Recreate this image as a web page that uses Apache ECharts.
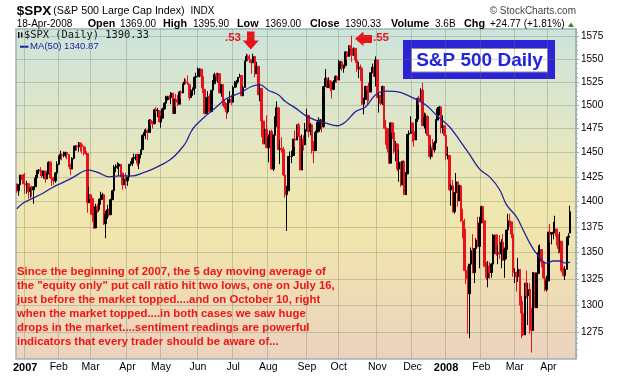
<!DOCTYPE html>
<html>
<head>
<meta charset="utf-8">
<script src="https://cdn.jsdelivr.net/npm/echarts@6/dist/echarts.min.js"></script>
<style>
  html, body { margin: 0; padding: 0; background: #fff; }
  #chart { width: 620px; height: 376px; }
</style>
</head>
<body>
<div id="chart"></div>
<script>
// trading days from 22-Dec-2006 to 18-Apr-2008 (weekends and these holidays skipped)
const holidays = ['2006-12-25', '2007-01-01', '2007-01-02', '2007-01-15', '2007-02-19', '2007-04-06',
  '2007-05-28', '2007-07-04', '2007-09-03', '2007-11-22', '2007-12-25', '2008-01-01', '2008-01-21',
  '2008-02-18', '2008-03-21']
const firstDay = '2006-12-22'
const lastDay = '2008-04-18'
const monthNames = ['Jan', 'Feb', 'Mar', 'Apr', 'May', 'Jun', 'Jul', 'Aug', 'Sep', 'Oct', 'Nov', 'Dec']

// $SPX daily bars (Dec-06 .. Apr-08)
const opens = [
  1418, 1411, 1417, 1427, 1425,
  1418, 1417, 1418, 1410, 1413, 1412, 1415, 1424, 1431, 1432, 1431, 1426, 1431, 1423, 1428, 1440, 1424, 1422, 1421, 1429,
  1438, 1446, 1448, 1447, 1448, 1450, 1448, 1438, 1433, 1444, 1455, 1457, 1456, 1460, 1458, 1456, 1451, 1449, 1399,
  1407, 1403, 1387, 1374, 1395, 1392, 1402, 1403, 1407, 1378, 1387, 1392, 1387, 1402, 1411, 1435, 1435, 1436, 1438, 1429, 1417, 1423,
  1421, 1425, 1438, 1439, 1444, 1445, 1448, 1439, 1448, 1453, 1468, 1471, 1473, 1471, 1484, 1481, 1480, 1495, 1494, 1494,
  1482, 1486, 1496, 1502, 1506, 1509, 1508, 1513, 1491, 1506, 1503, 1501, 1514, 1513, 1523, 1525, 1524, 1522, 1508, 1516, 1518, 1530,
  1531, 1536, 1539, 1531, 1517, 1491, 1508, 1509, 1493, 1516, 1523, 1533, 1531, 1534, 1513, 1522, 1503, 1498, 1493, 1506, 1506,
  1503, 1519, 1525, 1525, 1530, 1532, 1510, 1519, 1548, 1553, 1550, 1549, 1546, 1553, 1534, 1542, 1511, 1518, 1483, 1459, 1474,
  1455, 1466, 1472, 1433, 1468, 1477, 1497, 1453, 1454, 1453, 1427, 1407, 1411, 1446, 1446, 1447, 1464, 1463, 1479, 1467, 1432, 1464, 1458,
  1474, 1489, 1472, 1479, 1454, 1452, 1471, 1472, 1484, 1484, 1477, 1520, 1529, 1519, 1526, 1518, 1517, 1525, 1531,
  1527, 1547, 1547, 1540, 1543, 1558, 1553, 1565, 1562, 1554, 1562, 1549, 1539, 1541, 1540, 1501, 1506, 1520, 1516, 1514, 1535, 1541, 1531,
  1549, 1508, 1510, 1502, 1520, 1476, 1475, 1454, 1439, 1481, 1471, 1451, 1459, 1433, 1440, 1417, 1441, 1407, 1428, 1469, 1470,
  1481, 1472, 1463, 1485, 1507, 1505, 1516, 1478, 1487, 1488, 1468, 1446, 1455, 1453, 1460, 1484, 1496, 1498, 1476, 1478,
  1468, 1447, 1447, 1412, 1416, 1390, 1409, 1420, 1401, 1416, 1381, 1373, 1333, 1325, 1311, 1339, 1352, 1331, 1354, 1362, 1356,
  1379, 1395, 1381, 1337, 1326, 1337, 1331, 1339, 1349, 1367, 1349, 1350, 1349, 1360, 1343, 1353, 1372, 1381, 1380, 1368,
  1331, 1331, 1327, 1334, 1304, 1293, 1273, 1321, 1309, 1315, 1288, 1277, 1331, 1298, 1330, 1350, 1353, 1341, 1326, 1315,
  1323, 1370, 1368, 1369, 1370, 1373, 1366, 1354, 1361, 1333, 1328, 1334, 1365, 1369
]
const highs = [
  1418, 1417, 1427, 1427, 1428,
  1429, 1421, 1418, 1415, 1416, 1415, 1427, 1432, 1433, 1435, 1432, 1431, 1431, 1429, 1441, 1441, 1427, 1425, 1430, 1441,
  1447, 1452, 1449, 1451, 1451, 1450, 1448, 1438, 1445, 1457, 1457, 1457, 1461, 1460, 1459, 1457, 1456, 1449, 1415,
  1407, 1404, 1389, 1398, 1398, 1403, 1410, 1409, 1407, 1391, 1397, 1393, 1403, 1412, 1437, 1438, 1440, 1439, 1438, 1429, 1427, 1429,
  1425, 1438, 1441, 1445, 1449, 1448, 1449, 1448, 1453, 1469, 1474, 1475, 1474, 1485, 1485, 1483, 1496, 1498, 1497, 1494,
  1488, 1497, 1503, 1510, 1510, 1511, 1514, 1513, 1507, 1512, 1511, 1515, 1516, 1523, 1529, 1528, 1532, 1523, 1517, 1519, 1531, 1535,
  1541, 1540, 1539, 1531, 1517, 1508, 1515, 1512, 1516, 1527, 1535, 1535, 1535, 1534, 1522, 1522, 1506, 1502, 1507, 1515, 1511,
  1521, 1526, 1527, 1530, 1534, 1532, 1521, 1548, 1556, 1555, 1555, 1549, 1556, 1553, 1547, 1542, 1522, 1518, 1483, 1475, 1489,
  1469, 1473, 1474, 1469, 1488, 1504, 1497, 1463, 1466, 1456, 1427, 1416, 1446, 1451, 1452, 1464, 1473, 1479, 1481, 1467, 1469, 1468, 1481,
  1496, 1489, 1481, 1479, 1462, 1473, 1482, 1487, 1485, 1484, 1520, 1539, 1530, 1530, 1527, 1523, 1527, 1532, 1532,
  1549, 1548, 1547, 1544, 1559, 1558, 1565, 1565, 1576, 1563, 1562, 1552, 1547, 1544, 1540, 1508, 1521, 1521, 1524, 1535, 1545, 1541, 1553,
  1549, 1513, 1511, 1521, 1520, 1484, 1475, 1456, 1481, 1481, 1473, 1462, 1459, 1453, 1440, 1441, 1442, 1430, 1469, 1473, 1488,
  1481, 1472, 1485, 1508, 1510, 1518, 1524, 1492, 1491, 1489, 1468, 1458, 1464, 1462, 1485, 1498, 1499, 1498, 1489, 1478,
  1471, 1456, 1447, 1418, 1422, 1409, 1429, 1420, 1417, 1416, 1393, 1383, 1350, 1337, 1339, 1355, 1368, 1354, 1364, 1385, 1385,
  1396, 1395, 1381, 1341, 1342, 1341, 1340, 1368, 1367, 1368, 1357, 1367, 1363, 1368, 1355, 1372, 1388, 1388, 1380, 1368,
  1335, 1332, 1345, 1334, 1309, 1295, 1321, 1333, 1321, 1321, 1298, 1331, 1331, 1331, 1357, 1358, 1353, 1341, 1334, 1328,
  1370, 1378, 1370, 1380, 1386, 1373, 1368, 1370, 1361, 1336, 1337, 1365, 1369, 1396
]
const lows = [
  1409, 1406, 1417, 1422, 1418,
  1408, 1408, 1403, 1404, 1405, 1398, 1415, 1422, 1428, 1426, 1424, 1423, 1419, 1423, 1428, 1423, 1416, 1417, 1419, 1424,
  1437, 1443, 1442, 1445, 1445, 1443, 1435, 1427, 1433, 1443, 1452, 1452, 1451, 1451, 1449, 1447, 1448, 1389, 1399,
  1387, 1380, 1373, 1374, 1389, 1390, 1397, 1402, 1377, 1364, 1383, 1385, 1387, 1402, 1408, 1430, 1433, 1426, 1425, 1412, 1417, 1413,
  1416, 1424, 1436, 1436, 1439, 1442, 1436, 1433, 1444, 1453, 1467, 1464, 1463, 1471, 1478, 1475, 1480, 1492, 1487, 1482,
  1476, 1486, 1495, 1500, 1505, 1506, 1501, 1491, 1491, 1498, 1499, 1501, 1507, 1513, 1522, 1523, 1522, 1505, 1508, 1510, 1511, 1525,
  1530, 1530, 1518, 1513, 1490, 1491, 1503, 1492, 1493, 1516, 1523, 1526, 1524, 1513, 1509, 1499, 1496, 1485, 1491, 1502, 1500,
  1503, 1519, 1519, 1523, 1530, 1510, 1510, 1519, 1548, 1548, 1546, 1534, 1546, 1530, 1534, 1511, 1504, 1466, 1459, 1459, 1455,
  1440, 1456, 1433, 1431, 1463, 1477, 1453, 1438, 1450, 1426, 1404, 1371, 1411, 1431, 1439, 1448, 1456, 1463, 1467, 1432, 1432, 1452, 1458,
  1472, 1466, 1468, 1449, 1439, 1452, 1470, 1471, 1474, 1471, 1476, 1520, 1518, 1519, 1515, 1507, 1516, 1525, 1524,
  1527, 1539, 1537, 1535, 1542, 1549, 1553, 1554, 1547, 1554, 1546, 1536, 1529, 1526, 1500, 1490, 1506, 1500, 1504, 1514, 1535, 1531, 1520,
  1508, 1492, 1500, 1500, 1475, 1458, 1450, 1439, 1439, 1464, 1449, 1441, 1431, 1420, 1415, 1417, 1407, 1407, 1428, 1458, 1470,
  1461, 1456, 1463, 1482, 1500, 1505, 1478, 1475, 1470, 1467, 1445, 1443, 1445, 1450, 1460, 1484, 1489, 1470, 1470, 1467,
  1442, 1443, 1411, 1396, 1389, 1388, 1395, 1395, 1401, 1380, 1364, 1333, 1320, 1274, 1270, 1328, 1330, 1321, 1336, 1355, 1335,
  1379, 1379, 1336, 1324, 1317, 1325, 1326, 1339, 1349, 1347, 1339, 1344, 1335, 1342, 1326, 1344, 1364, 1375, 1364, 1327,
  1321, 1313, 1322, 1300, 1270, 1272, 1273, 1307, 1282, 1274, 1257, 1277, 1298, 1298, 1330, 1341, 1336, 1325, 1313, 1313,
  1323, 1360, 1358, 1363, 1370, 1357, 1349, 1350, 1331, 1327, 1324, 1334, 1357, 1369
]
const closes = [
  1411, 1417, 1427, 1425, 1418,
  1417, 1418, 1410, 1413, 1412, 1415, 1424, 1431, 1432, 1431, 1426, 1431, 1423, 1428, 1440, 1424, 1422, 1421, 1429, 1438,
  1446, 1448, 1447, 1448, 1450, 1448, 1438, 1433, 1444, 1455, 1457, 1456, 1460, 1458, 1456, 1451, 1449, 1399, 1407,
  1403, 1387, 1374, 1395, 1392, 1402, 1403, 1407, 1378, 1387, 1392, 1387, 1402, 1411, 1435, 1435, 1436, 1438, 1429, 1417, 1423, 1421,
  1425, 1438, 1439, 1444, 1445, 1448, 1439, 1448, 1453, 1468, 1471, 1473, 1471, 1484, 1481, 1480, 1495, 1494, 1494, 1482,
  1486, 1496, 1502, 1506, 1509, 1508, 1513, 1491, 1506, 1503, 1501, 1514, 1513, 1523, 1525, 1524, 1522, 1508, 1516, 1518, 1530, 1531,
  1536, 1539, 1531, 1517, 1491, 1508, 1509, 1493, 1516, 1523, 1533, 1531, 1534, 1513, 1522, 1503, 1498, 1493, 1506, 1506, 1503,
  1519, 1525, 1525, 1530, 1532, 1510, 1519, 1548, 1553, 1550, 1549, 1546, 1553, 1534, 1542, 1511, 1518, 1483, 1459, 1474, 1455,
  1466, 1472, 1433, 1468, 1477, 1497, 1453, 1454, 1453, 1427, 1407, 1411, 1446, 1446, 1447, 1464, 1463, 1479, 1467, 1432, 1464, 1458, 1474,
  1489, 1472, 1479, 1454, 1452, 1471, 1472, 1484, 1484, 1477, 1520, 1529, 1519, 1526, 1518, 1517, 1525, 1531, 1527,
  1547, 1547, 1540, 1543, 1558, 1553, 1565, 1562, 1554, 1562, 1549, 1539, 1541, 1540, 1501, 1506, 1520, 1516, 1514, 1535, 1541, 1531, 1549,
  1508, 1510, 1502, 1520, 1476, 1475, 1454, 1439, 1481, 1471, 1451, 1459, 1433, 1440, 1417, 1441, 1407, 1428, 1469, 1470, 1481,
  1472, 1463, 1485, 1507, 1505, 1516, 1478, 1487, 1488, 1468, 1446, 1455, 1453, 1460, 1484, 1496, 1498, 1476, 1478, 1468,
  1447, 1447, 1412, 1416, 1390, 1409, 1420, 1401, 1416, 1381, 1373, 1333, 1325, 1311, 1339, 1352, 1331, 1354, 1362, 1356, 1379,
  1395, 1381, 1337, 1326, 1337, 1331, 1339, 1349, 1367, 1349, 1350, 1349, 1360, 1343, 1353, 1372, 1381, 1380, 1368, 1331,
  1331, 1327, 1334, 1304, 1293, 1273, 1321, 1309, 1315, 1288, 1277, 1331, 1298, 1330, 1350, 1353, 1341, 1326, 1315, 1323,
  1370, 1368, 1369, 1370, 1373, 1366, 1354, 1361, 1333, 1328, 1334, 1365, 1366, 1390
]

// MA(50) at these bar positions
const maIdx = [0, 4, 9, 15, 21, 27, 33, 40, 43, 49, 55, 61, 69, 75, 81, 87, 91, 95, 99, 101,
  104, 107, 113, 119, 125, 133, 140, 145, 150, 156, 160, 166, 172, 178, 184, 191, 196, 202, 208, 214,
  220, 228, 236, 244, 251, 258, 264, 270, 276, 282, 288, 292, 298, 302, 306, 310, 316, 320, 324, 327, 330]
const maVals = [1393, 1399, 1403, 1408, 1414, 1419, 1424, 1431, 1432, 1429, 1425, 1426, 1426, 1429, 1433, 1438, 1442, 1448, 1456, 1461,
  1472, 1479, 1489, 1498, 1507, 1513, 1520, 1522, 1516, 1511, 1504, 1497, 1489, 1484, 1481, 1478, 1482, 1493, 1498, 1511,
  1515, 1514, 1508, 1500, 1488, 1477, 1463, 1448, 1433, 1425, 1412, 1397, 1385, 1372, 1359, 1349, 1340, 1342, 1342, 1340, 1341]

const yTicks = [1275, 1300, 1325, 1350, 1375, 1400, 1425, 1450, 1475, 1500, 1525, 1550, 1575]

const noteLines = [
  'Since the beginning of 2007, the 5 day moving average of',
  'the "equity only" put call ratio hit two lows, one on July 16,',
  'just before the market topped....and on October 10, right',
  'when the market topped....in both cases we saw huge',
  'drops in the market....sentiment readings are powerful',
  'indicators that every trader should be aware of...'
]

// ---- build the category axis ----
const dates = []
const skip = new Set(holidays)
for (let t = Date.parse(firstDay); t <= Date.parse(lastDay); t += 86400000) {
  const d = new Date(t)
  const wd = d.getUTCDay()
  const s = d.toISOString().slice(0, 10)
  if (wd === 0 || wd === 6 || skip.has(s)) continue
  dates.push(s)
}
const cats = dates.concat(['', '', ''])   // a little empty room after the last bar

const monthStarts = new Set()
for (let i = 1; i < dates.length; i++) {
  if (dates[i].slice(5, 7) !== dates[i - 1].slice(5, 7)) monthStarts.add(i)
}

const ln = Math.log
const RED = '#e8121a'
const candles = dates.map((d, i) => {
  const prev = i === 0 ? opens[0] : closes[i - 1]
  const col = closes[i] < prev ? RED : '#000'
  return {
    value: [ln(opens[i]), ln(closes[i]), ln(lows[i]), ln(highs[i])],
    itemStyle: { color: col, color0: col, borderColor: col, borderColor0: col }
  }
})

const maData = dates.map(() => null)
maIdx.forEach((k, j) => { maData[k] = ln(maVals[j]) })

const minorTicks = []
for (let v = 1255; v <= 1580; v += 5) minorTicks.push(ln(v))

const FONT = 'Liberation Sans, Arial, sans-serif'
const yMin = ln(1251.3)
const yMax = ln(1583.7)

function t(x, y, text, size, bold, fill, extra) {
  return Object.assign({
    type: 'text', x: x, y: y, silent: true,
    style: Object.assign({
      text: text, fill: fill || '#000', align: 'left', verticalAlign: 'middle',
      font: (bold ? 'bold ' : '') + size + 'px ' + FONT
    }, extra || {})
  })
}

const header2 = [
  [16.7, '18-Apr-2008', false], [87.7, 'Open', true], [120, '1369.00', false], [163, 'High', true],
  [193, '1395.90', false], [237, 'Low', true], [265, '1369.00', false], [310, 'Close', true],
  [345, '1390.33', false], [391, 'Volume', true], [435, '3.6B', false], [464, 'Chg', true],
  [490, '+24.77 (+1.81%)', false]
]

const graphics = [
  t(16.7, 11, '$SPX', 13.5, true),
  t(53.3, 11.5, '(S&P 500 Large Cap Index)', 10.7, false),
  t(190.5, 11.5, 'INDX', 10, false),
  t(576, 11.5, '\u00a9 StockCharts.com', 10, false, '#444', { align: 'right' }),
  ...header2.map(h => t(h[0], 24, h[1], h[2] ? 10.8 : 10, h[2])),
  { type: 'polygon', silent: true, shape: { points: [[568, 27], [574, 27], [571, 22.5]] }, style: { fill: '#2f8a2f' } },

  // legend inside the plot
  { type: 'rect', silent: true, shape: { x: 18, y: 32, width: 1.4, height: 6 }, style: { fill: '#000' } },
  { type: 'rect', silent: true, shape: { x: 21, y: 32.5, width: 1.4, height: 5 }, style: { fill: '#000' } },
  t(24, 35.5, '$SPX (Daily) 1390.33', 10.4, false, '#111', { font: '10.4px DejaVu Sans Mono, monospace' }),
  { type: 'line', silent: true, shape: { x1: 20, y1: 46.7, x2: 28.5, y2: 46.7 }, style: { stroke: '#1c1c9c', lineWidth: 2 } },
  t(30, 46.7, 'MA(50) 1340.87', 9.6, false, '#1c1c9c'),

  // arrows and ratios
  t(225, 37.5, '.53', 11.5, true, RED),
  { type: 'polygon', silent: true, shape: { points: [[247, 31.5], [254.5, 31.5], [254.5, 40.5], [258.8, 40.5], [250.8, 49.5], [242.8, 40.5], [247, 40.5]] }, style: { fill: RED } },
  t(373, 38, '.55', 11.5, true, RED),
  { type: 'polygon', silent: true, shape: { points: [[372, 35], [372, 43], [363.5, 43], [363.5, 46], [355, 38.8], [363.5, 31.5], [363.5, 35]] }, style: { fill: RED } },

  // title box
  { type: 'rect', silent: true, shape: { x: 403, y: 40, width: 152, height: 39 }, style: { fill: '#2d22d4' } },
  { type: 'rect', silent: true, shape: { x: 411.5, y: 48.5, width: 136, height: 23.5 }, style: { fill: '#fff', stroke: '#8a8a9a', lineWidth: 1 } },
  t(479.5, 60.5, 'S&P 500 Daily', 19, true, '#1f22de', { align: 'center' }),

  // commentary
  ...noteLines.map((s, k) => t(17, 272.3 + 14 * k, s, 11.35, true, '#f01414'))
]

const option = {
  animation: false,
  backgroundColor: '#fff',
  grid: {
    left: 16, top: 29, width: 560, height: 330,
    show: true,
    borderColor: '#9fb4b9', borderWidth: 1.5,
    backgroundColor: new echarts.graphic.LinearGradient(0, 0, 0, 1, [
      { offset: 0, color: '#cce4dc' },
      { offset: 0.3, color: '#e1e6c6' },
      { offset: 0.5, color: '#efe7b2' },
      { offset: 0.62, color: '#f1e5ad' },
      { offset: 1, color: '#ebd2bf' }
    ])
  },
  xAxis: {
    type: 'category',
    data: cats,
    boundaryGap: true,
    axisLine: { show: false },
    axisTick: { show: false },
    axisLabel: {
      interval: (i) => monthStarts.has(i),
      margin: 3,
      color: '#000',
      fontFamily: FONT,
      fontSize: 10.5,
      formatter: (v) => {
        if (!v) return ''
        const m = +v.slice(5, 7) - 1
        return m === 0 ? '{y|' + v.slice(0, 4) + '}' : monthNames[m]
      },
      rich: { y: { fontWeight: 'bold', fontSize: 11, fontFamily: FONT, color: '#000' } }
    },
    splitLine: {
      show: true,
      interval: (i) => monthStarts.has(i),
      lineStyle: { color: 'rgba(110,125,100,0.32)', width: 1 }
    }
  },
  yAxis: [
    {
      type: 'value', position: 'right', min: yMin, max: yMax,
      axisLine: { show: true, lineStyle: { color: '#9fb4b9', width: 1.5 } },
      axisTick: { show: true, length: 3, customValues: yTicks.map(ln), lineStyle: { color: '#8fa4a9' } },
      axisLabel: {
        customValues: yTicks.map(ln),
        formatter: (v) => String(Math.round(Math.exp(v))),
        color: '#000', fontFamily: FONT, fontSize: 10, margin: 5
      },
      splitLine: { show: true, lineStyle: { color: 'rgba(110,125,100,0.32)', width: 1 } }
    },
    {
      type: 'value', position: 'right', min: yMin, max: yMax,
      axisLine: { show: false },
      axisTick: { show: true, length: 2, customValues: minorTicks, lineStyle: { color: '#9fb4b9' } },
      axisLabel: { show: false },
      splitLine: { show: false }
    }
  ],
  series: [
    {
      type: 'candlestick',
      data: candles,
      barWidth: 2,
      yAxisIndex: 0,
      itemStyle: { borderWidth: 1 }
    },
    {
      type: 'line',
      data: maData,
      yAxisIndex: 0,
      connectNulls: true,
      smooth: 0.35,
      showSymbol: false,
      lineStyle: { color: '#23239e', width: 1.3 }
    }
  ],
  graphic: graphics
}

const chart = echarts.init(document.getElementById('chart'))
chart.setOption(option)
window.onresize = () => chart.resize()
</script>
</body>
</html>
